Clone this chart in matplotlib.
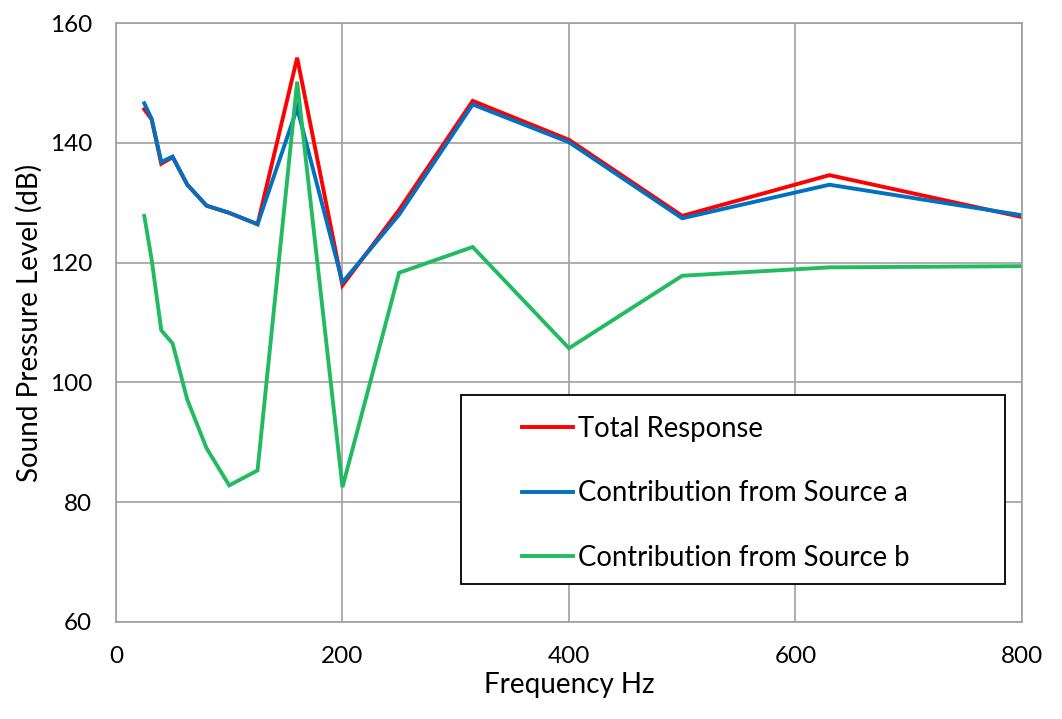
import matplotlib
matplotlib.use('Agg')
import matplotlib.pyplot as plt
from matplotlib.patches import Rectangle

# Frecuencias de tercio de octava
freq = [25, 31.5, 40, 50, 63, 80, 100, 125, 160, 200, 250, 315, 400, 500, 630, 800]

total = [145.6, 143.9, 136.5, 137.6, 133.0, 129.5, 128.3, 126.4, 154.2, 116.2,
         128.8, 147.0, 140.5, 127.8, 134.6, 127.6]
source_a = [146.6, 144.0, 136.8, 137.7, 133.0, 129.5, 128.3, 126.4, 145.8, 116.7,
            128.0, 146.4, 140.1, 127.4, 133.0, 127.9]
source_b = [127.8, 120.5, 108.7, 106.5, 97.1, 89.0, 82.8, 85.3, 150.2, 82.5,
            118.3, 122.6, 105.7, 117.8, 119.2, 119.4]

labels = ['Total Response', 'Contribution from Source a', 'Contribution from Source b']
colors = ['#FF0000', '#0070C0', '#22BB62']

plt.rcParams['font.family'] = ['Lato', 'DejaVu Sans']

fig = plt.figure(figsize=(10.62, 7.19), dpi=100)
ax = fig.add_axes([0.1092, 0.135, 0.8531, 0.833])

for y, lab, c in zip([total, source_a, source_b], labels, colors):
    ax.plot(freq, y, color=c, lw=2.8, label=lab, solid_joinstyle='miter')

ax.set_xlim(0, 800)
ax.set_ylim(60, 160)
ax.set_xticks([0, 200, 400, 600, 800])
ax.set_yticks([60, 80, 100, 120, 140, 160])
ax.grid(True, color='#A0A0A0', lw=1.2)
ax.set_axisbelow(True)
for s in ax.spines.values():
    s.set_color('#A0A0A0')
    s.set_linewidth(1.2)
ax.tick_params(length=0, labelsize=17.5)
ax.tick_params(axis='y', pad=17)
ax.tick_params(axis='x', pad=17)
ax.set_xlabel('Frequency Hz', fontsize=20, labelpad=4)
ax.set_ylabel('Sound Pressure Level (dB)', fontsize=20, labelpad=5)

# recuadro de la leyenda
ax.add_patch(Rectangle((0.3808, 0.0634), 0.6004, 0.3155, transform=ax.transAxes,
                       facecolor='white', edgecolor='black', lw=1.3, zorder=4))
leg = ax.legend(loc='upper left', bbox_to_anchor=(0.448, 0.344),
                fontsize=19.8, frameon=False, handlelength=1.85,
                handletextpad=0.2, labelspacing=1.4, borderpad=0,
                borderaxespad=0)
leg.set_zorder(5)

fig.savefig('out.png', dpi=100)
